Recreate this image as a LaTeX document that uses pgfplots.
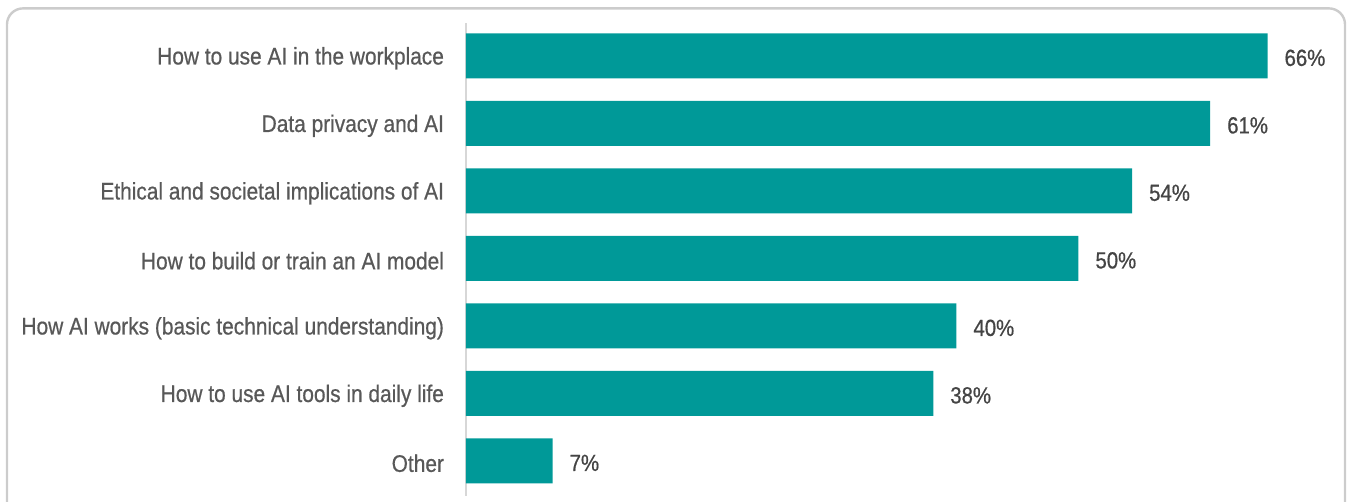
\documentclass[border=0pt]{standalone}
\usepackage{pgfplots}
\pgfplotsset{compat=1.18}
\usepackage{fontspec}
\setmainfont{Liberation Sans}[FakeStretch=0.87, FakeBold=0.6]
\definecolor{barteal}{RGB}{0,153,152}
\definecolor{labgray}{RGB}{88,88,88}
\definecolor{valgray}{RGB}{68,68,68}
\definecolor{framegray}{RGB}{204,204,204}
\definecolor{axisgray}{RGB}{215,215,215}
\begin{document}
\begin{tikzpicture}
\useasboundingbox (0,0) rectangle (675pt,251pt);
\draw[framegray, line width=1.2pt, rounded corners=8pt] (3.5pt,-20pt) rectangle (672.5pt,246.8pt);
\begin{axis}[
  at={(233pt,3pt)}, anchor=south west,
  scale only axis,
  width=427pt, height=236.6pt,
  xmin=0, xmax=70,
  ymin=-0.52, ymax=6.49,
  xbar, bar width=22.5pt,
  axis x line=none,
  axis y line*=left,
  y axis line style={axisgray, line width=0.9pt, -},
  ytick={0,1,2,3,4,5,6},
  yticklabels={Other, How to use AI tools in daily life, How AI works (basic technical understanding), How to build or train an AI model, Ethical and societal implications of AI, Data privacy and AI, How to use AI in the workplace},
  major tick length=0pt,
  yticklabel style={font=\fontsize{12}{14}\selectfont, text=labgray, anchor=east, xshift=-7.5pt, yshift=-1.2pt},
  point meta=explicit symbolic,
  nodes near coords={\pgfplotspointmeta\%},
  nodes near coords align={horizontal},
  every node near coord/.append style={font=\fontsize{11.7}{13}\selectfont, text=valgray, anchor=west, xshift=5pt, yshift=-1pt},
  clip=false,
]
\addplot[fill=barteal, draw=none] coordinates {
(7.1,0) [7] (38.3,1) [38] (40.2,2) [40] (50.2,3) [50] (54.6,4) [54] (61.0,5) [61] (65.7,6) [66]
};
\end{axis}
\end{tikzpicture}
\end{document}
